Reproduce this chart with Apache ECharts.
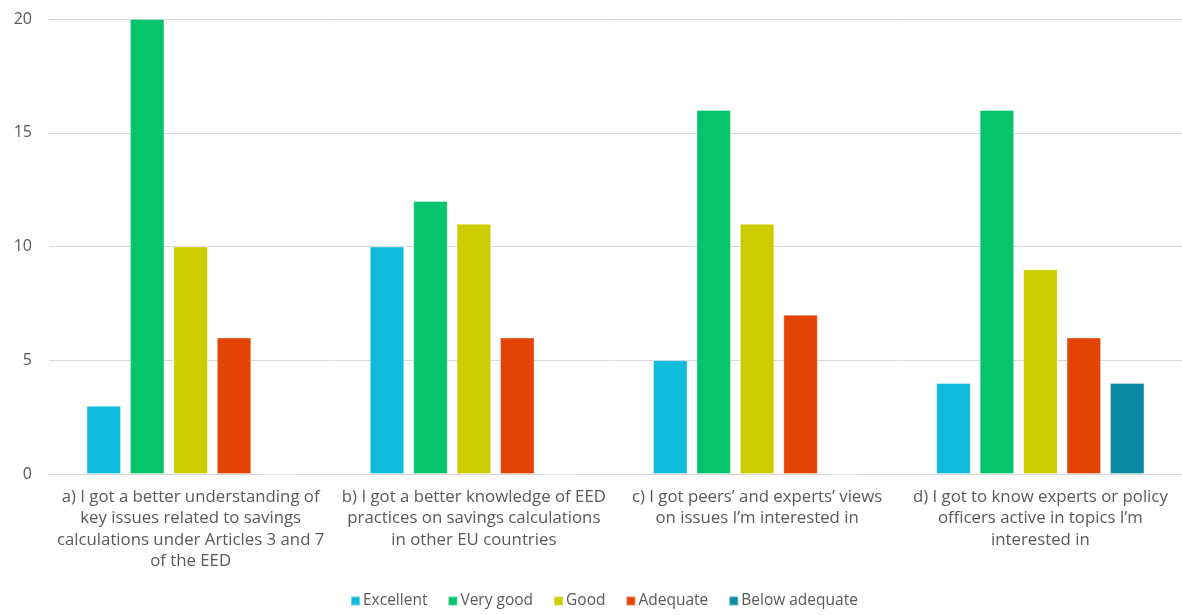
<!DOCTYPE html>
<html>
<head>
<meta charset="utf-8">
<script src="https://cdn.jsdelivr.net/npm/echarts@6/dist/echarts.min.js"></script>
<style>
  html, body { margin: 0; padding: 0; background: #fff; }
  #chart { width: 1182px; height: 615px; }
</style>
</head>
<body>
<div id="chart"></div>
<script>
// Survey statements (x-axis categories)
const categories = [
  "a) I got a better understanding of\nkey issues related to savings\ncalculations under Articles 3 and 7\nof the EED",
  "b) I got a better knowledge of EED\npractices on savings calculations\nin other EU countries",
  "c) I got peers\u2019 and experts\u2019 views\non issues I\u2019m interested in",
  "d) I got to know experts or policy\nofficers active in topics I\u2019m\ninterested in"
];

// Response counts per rating
const excellent     = [3, 10, 5, 4];
const veryGood      = [20, 12, 16, 16];
const good          = [10, 11, 11, 9];
const adequate      = [6, 6, 7, 6];
const belowAdequate = [0, 0, 0, 4];

const seriesNames  = ["Excellent", "Very good", "Good", "Adequate", "Below adequate"];
const seriesData   = [excellent, veryGood, good, adequate, belowAdequate];
const seriesColors = ["#0FBBDD", "#05C46B", "#CCCC00", "#E34304", "#0A89A3"];

const fontFamily = "'Open Sans', 'Roboto', sans-serif";
const textColor = "#595959";

const chart = echarts.init(document.getElementById("chart"));
chart.setOption({
  animation: false,
  textStyle: { fontFamily: fontFamily },
  grid: { left: 49, right: -10, top: 19, bottom: 141, containLabel: false },
  legend: {
    bottom: 1,
    left: 345,
    icon: "rect",
    itemWidth: 9,
    itemHeight: 9,
    itemGap: 20,
    textStyle: { color: textColor, fontSize: 15.5, fontFamily: fontFamily, padding: [0, 0, 0, -2] },
    data: seriesNames
  },
  xAxis: {
    type: "category",
    data: categories,
    axisTick: { show: false },
    axisLine: { show: true, lineStyle: { color: "#d9d9d9", width: 1 } },
    axisLabel: {
      color: textColor,
      fontSize: 16.8,
      lineHeight: 21.5,
      margin: 12,
      interval: 0,
      fontFamily: fontFamily
    }
  },
  yAxis: {
    type: "value",
    min: 0,
    max: 20,
    interval: 5,
    axisLine: { show: false },
    axisTick: { show: false },
    splitLine: { lineStyle: { color: "#d9d9d9", width: 1 } },
    axisLabel: { color: textColor, fontSize: 16, margin: 17, fontFamily: fontFamily }
  },
  series: seriesNames.map((name, i) => ({
    name: name,
    type: "bar",
    data: seriesData[i],
    barGap: "26%",
    barCategoryGap: "26.5%",
    itemStyle: {
      color: seriesColors[i],
      borderColor: "rgba(255,255,255,0.35)",
      borderWidth: 1
    }
  }))
});
</script>
</body>
</html>
